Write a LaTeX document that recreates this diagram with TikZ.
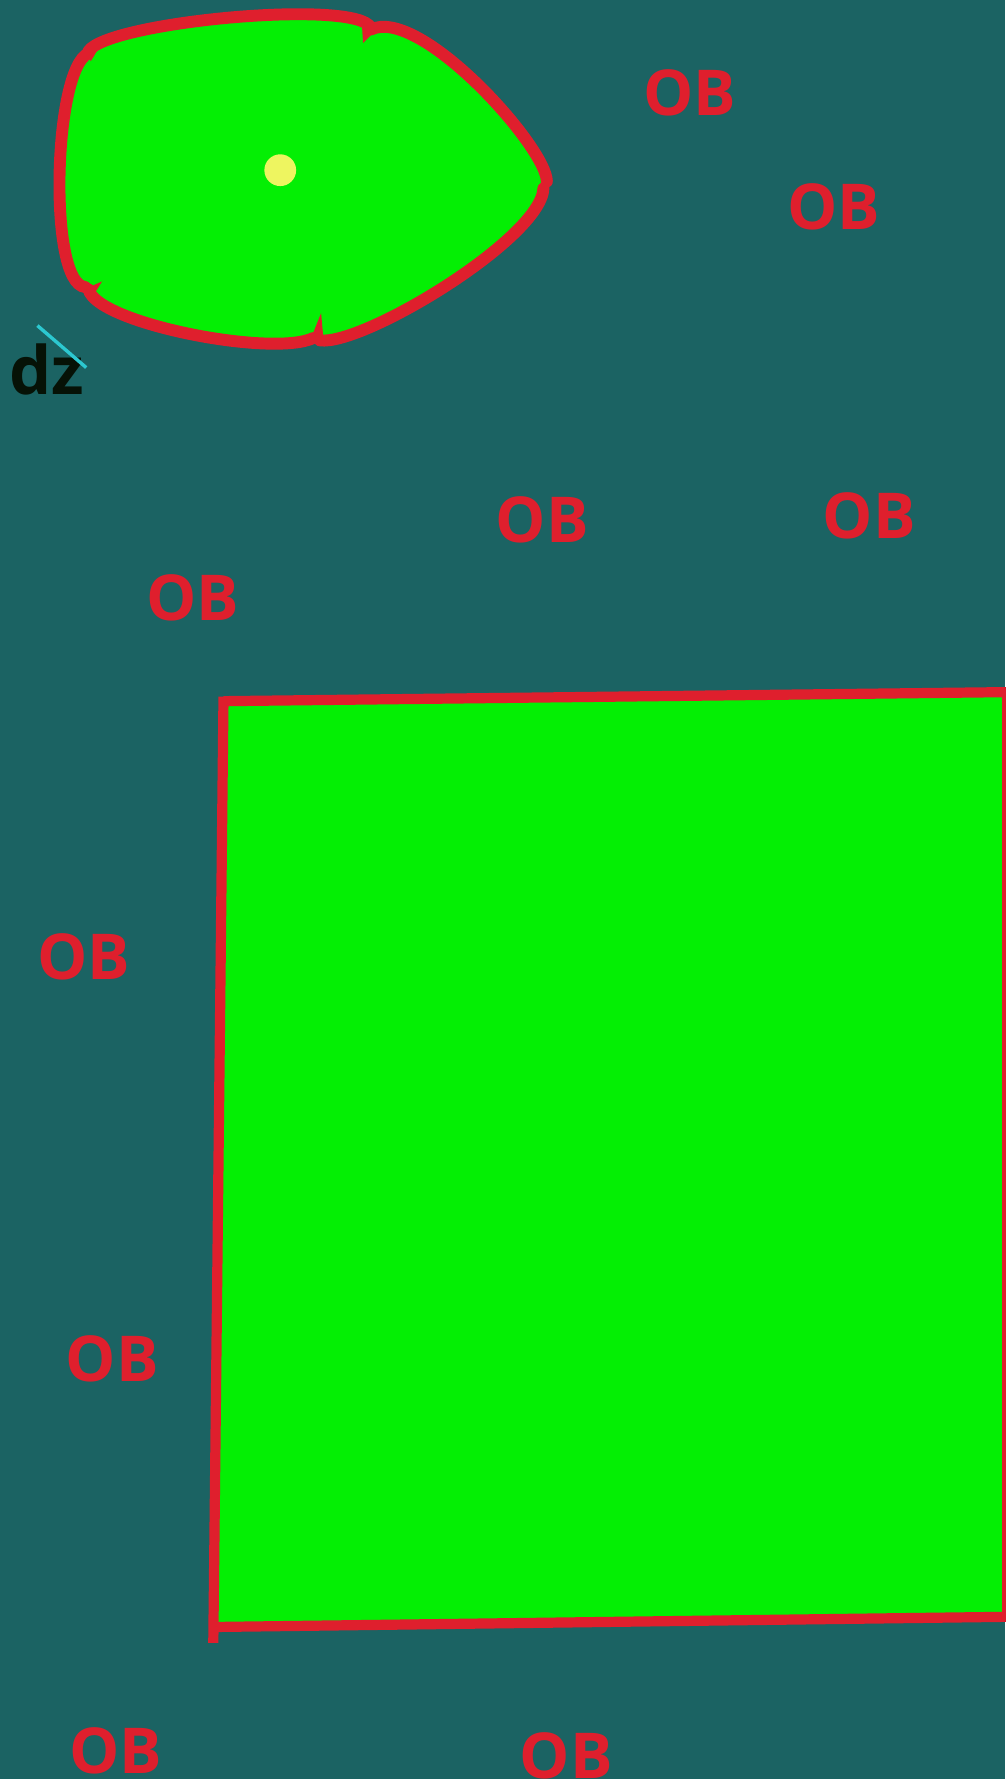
\documentclass[tikz,border=0pt]{standalone}
\usepackage{fontspec}
\setmainfont{Open Sans}
\definecolor{bgteal}{HTML}{1B6363}
\definecolor{obred}{HTML}{DF1F2D}
\definecolor{leaf}{HTML}{04EF04}
\definecolor{dot}{HTML}{EEF560}
\definecolor{tick}{HTML}{2CC8D0}
\definecolor{ink}{HTML}{061206}
\begin{document}
\begin{tikzpicture}[
    x=0.02269cm, y=-0.02269cm,
    ob/.style={text=obred, font=\fontsize{36}{40}\selectfont\bfseries, inner sep=0pt},
    rim/.style={draw=obred, line width=9*0.02269cm, line join=round},
    blobrim/.style={draw=obred, line width=10.5*0.02269cm, line cap=round}
]
\fill[bgteal] (0,0) rectangle (886,1568);
\useasboundingbox (0,0) rectangle (886,1568);
% blob
\fill[leaf] (78,45) .. controls (95,20) and (300,0) .. (325,22)
    .. controls (370,5) and (482,130) .. (482,160)
    .. controls (477,210) and (320,305) .. (282,300)
    .. controls (240,315) and (85,285) .. (78,255)
    .. controls (42,250) and (47,60) .. cycle;
\draw[blobrim] (78,45) .. controls (95,20) and (300,0) .. (325,22);
\draw[blobrim] (327,26) .. controls (370,5) and (482,130) .. (482,160);
\draw[blobrim] (479,166) .. controls (477,210) and (320,305) .. (282,300);
\draw[blobrim] (276,298) .. controls (240,315) and (85,285) .. (78,255);
\draw[blobrim] (75,253) .. controls (42,250) and (47,60) .. (78,47);
\fill[obred] (319,22) -- (320,38) -- (332,26) -- cycle;
\fill[obred] (275,296) -- (283,276) -- (285,298) -- cycle;
\fill[obred] (72,256) -- (90,248) -- (80,264) -- cycle;
\fill[obred] (74,42) -- (80,54) -- (86,44) -- cycle;
\fill[dot] (247,150) circle (14);
% dz
\node[text=ink, font=\fontsize{38}{42}\selectfont\bfseries, inner sep=0pt] (dz) at (41,326) {dz};
\coordinate (t1) at (33,287);
\coordinate (t2) at (76,324);
\draw[tick, line width=3*0.02269cm] (t1) -- (t2);
% square
\coordinate (sq1) at (197,618);
\coordinate (sq2) at (890,610);
\coordinate (sq3) at (890,1425);
\coordinate (sq4) at (189,1434);
\fill[leaf] (sq1) -- (sq2) -- (sq3) -- (sq4) -- cycle;
\draw[rim] (888,612) -- (888,1426);
\draw[rim] (sq1) -- (sq2);
\draw[rim] (sq3) -- (sq4);
\draw[rim] (197,614) -- (188,1448);
% labels
\node[ob] (ob1) at (608,82) {OB};
\node[ob] (ob2) at (735,182) {OB};
\node[ob] (ob3) at (478,458) {OB};
\node[ob] (ob4) at (766,455) {OB};
\node[ob] (ob5) at (170,527) {OB};
\node[ob] (ob6) at (74,843) {OB};
\node[ob] (ob7) at (99,1198) {OB};
\node[ob] (ob8) at (102,1543) {OB};
\node[ob] (ob9) at (499,1548) {OB};
\end{tikzpicture}
\end{document}
